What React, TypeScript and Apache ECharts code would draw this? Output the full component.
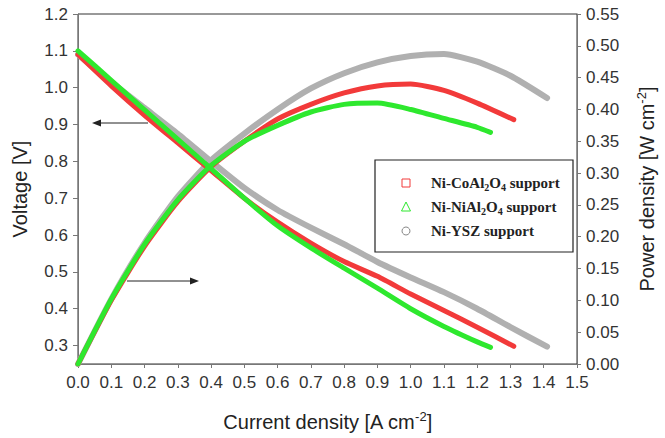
import React, { useEffect, useRef } from "react";
import * as echarts from "echarts";

// Voltage curves (left axis)
const coV_x = [0, 0.1, 0.2, 0.3, 0.4, 0.5, 0.6, 0.7, 0.8, 0.9, 1.0, 1.1, 1.2, 1.31];
const coV_y = [1.09, 1.005, 0.925, 0.85, 0.775, 0.70, 0.635, 0.578, 0.528, 0.488, 0.44, 0.395, 0.35, 0.298];
const niV_x = [0, 0.1, 0.2, 0.3, 0.4, 0.5, 0.6, 0.7, 0.8, 0.9, 1.0, 1.1, 1.2, 1.24];
const niV_y = [1.10, 1.02, 0.94, 0.86, 0.78, 0.70, 0.625, 0.565, 0.51, 0.456, 0.40, 0.352, 0.31, 0.295];
const yszV_x = [0, 0.1, 0.2, 0.3, 0.4, 0.5, 0.6, 0.7, 0.8, 0.9, 1.0, 1.1, 1.2, 1.3, 1.41];
const yszV_y = [1.09, 1.015, 0.945, 0.875, 0.80, 0.728, 0.668, 0.62, 0.575, 0.527, 0.485, 0.445, 0.40, 0.35, 0.297];

// Power curves (right axis)
const coP_x = [0, 0.1, 0.2, 0.3, 0.4, 0.5, 0.6, 0.7, 0.8, 0.9, 1.0, 1.1, 1.2, 1.31];
const coP_y = [0, 0.10, 0.185, 0.255, 0.31, 0.35, 0.385, 0.408, 0.426, 0.437, 0.44, 0.43, 0.41, 0.384];
const niP_x = [0, 0.1, 0.2, 0.3, 0.4, 0.5, 0.6, 0.7, 0.8, 0.9, 1.0, 1.1, 1.2, 1.24];
const niP_y = [0, 0.102, 0.188, 0.258, 0.312, 0.35, 0.375, 0.396, 0.408, 0.41, 0.40, 0.386, 0.372, 0.364];
const yszP_x = [0, 0.1, 0.2, 0.3, 0.4, 0.5, 0.6, 0.7, 0.8, 0.9, 1.0, 1.1, 1.2, 1.3, 1.41];
const yszP_y = [0, 0.102, 0.19, 0.263, 0.32, 0.362, 0.40, 0.433, 0.457, 0.474, 0.484, 0.487, 0.475, 0.453, 0.418];

const voltageTicks = [0.3, 0.4, 0.5, 0.6, 0.7, 0.8, 0.9, 1.0, 1.1, 1.2];

const legendNames = [
  "Ni-CoAl{sub|2}O{sub|4} support",
  "Ni-NiAl{sub|2}O{sub|4} support",
  "Ni-YSZ support",
];

const RED = "#f23a3a";
const GREEN = "#2ee82e";
const GRAY = "#b0b0b0";

const pairs = (xs: number[], ys: number[]) => xs.map((x, i) => [x, ys[i]]);

export default function App() {
  const ref = useRef<HTMLDivElement>(null);
  useEffect(() => {
    document.body.style.margin = "0";
    const chart = echarts.init(ref.current!, null, { renderer: "svg" });
    const SANS = "Liberation Sans, Arial, sans-serif";
    const tickFont = { fontFamily: SANS, fontSize: 17, color: "#333" };
    const nameFont = {
      fontFamily: SANS,
      fontSize: 20,
      color: "#222",
      rich: { sup: { fontSize: 13, verticalAlign: "bottom", padding: [0, 0, 11, 0], fontFamily: SANS, color: "#222" } },
    };
    const lineSeries = (name: string, data: number[][], color: string, width: number, yIdx: number, z: number) => ({
      name,
      type: "line",
      yAxisIndex: yIdx,
      data,
      symbol: "none",
      smooth: 0.2,
      z,
      lineStyle: { color, width, cap: "round", join: "round" },
    });
    const legendY = [183, 207, 231];
    const legendGraphics: any[] = [
      { type: "rect", shape: { x: 375, y: 160, width: 198, height: 92 }, style: { fill: "#fff", stroke: "#222", lineWidth: 1.2 }, z: 100 },
      { type: "rect", shape: { x: 402, y: legendY[0] - 4, width: 8, height: 8 }, style: { fill: "none", stroke: RED, lineWidth: 1 }, z: 101 },
      { type: "polygon", shape: { points: [[406, legendY[1] - 5], [401.5, legendY[1] + 4], [410.5, legendY[1] + 4]] }, style: { fill: "none", stroke: GREEN, lineWidth: 1 }, z: 101 },
      { type: "circle", shape: { cx: 406, cy: legendY[2], r: 4 }, style: { fill: "none", stroke: "#888", lineWidth: 1 }, z: 101 },
    ];
    legendNames.forEach((t, i) => {
      legendGraphics.push({
        type: "text",
        x: 431,
        y: legendY[i],
        z: 101,
        style: {
          text: t,
          fontFamily: "Liberation Serif, Times New Roman, serif",
          fontSize: 15,
          fontWeight: "bold",
          fill: "#222",
          verticalAlign: "middle",
          rich: { sub: { fontSize: 10, padding: [8, 0, 0, 0], fontFamily: "Liberation Serif, serif", fontWeight: "bold", fill: "#222" } },
        },
      });
    });
    const arrowColor = "#222";
    const arrows: any[] = [
      { type: "line", shape: { x1: 148, y1: 123, x2: 98, y2: 123 }, style: { stroke: arrowColor, lineWidth: 1 }, z: 50 },
      { type: "polygon", shape: { points: [[92, 123], [101, 119.5], [101, 126.5]] }, style: { fill: arrowColor }, z: 50 },
      { type: "line", shape: { x1: 127, y1: 281, x2: 192, y2: 281 }, style: { stroke: arrowColor, lineWidth: 1 }, z: 50 },
      { type: "polygon", shape: { points: [[199, 281], [190, 277.5], [190, 284.5]] }, style: { fill: arrowColor }, z: 50 },
    ];
    chart.setOption({
      animation: false,
      backgroundColor: "#fff",
      grid: { left: 78, right: 82, top: 14, bottom: 74, show: true, borderColor: "#333", borderWidth: 1 },
      xAxis: {
        type: "value",
        min: 0,
        max: 1.5,
        interval: 0.1,
        name: "Current density [A cm{sup|-2}]",
        nameLocation: "middle",
        nameGap: 46,
        nameTextStyle: nameFont,
        axisLine: { show: true, lineStyle: { color: "#777" } },
        axisTick: { show: true, length: 4, lineStyle: { color: "#777" } },
        axisLabel: { ...tickFont, margin: 10, formatter: (v: number) => v.toFixed(1) },
        splitLine: { show: false },
      },
      yAxis: [
        {
          type: "value",
          min: 0.25,
          max: 1.2,
          position: "left",
          name: "Voltage [V]",
          nameLocation: "middle",
          nameRotate: 90,
          nameGap: 48,
          nameTextStyle: nameFont,
          axisLine: { show: true, lineStyle: { color: "#777" } },
          axisTick: { show: true, length: 5, customValues: voltageTicks, lineStyle: { color: "#777" } },
          axisLabel: { ...tickFont, margin: 10, customValues: voltageTicks, formatter: (v: number) => v.toFixed(1) },
          splitLine: { show: false },
        },
        {
          type: "value",
          min: 0,
          max: 0.55,
          interval: 0.05,
          position: "right",
          name: "Power density [W cm{sup|-2}]",
          nameLocation: "middle",
          nameRotate: 90,
          nameGap: 58,
          nameTextStyle: nameFont,
          axisLine: { show: true, lineStyle: { color: "#777" } },
          axisTick: { show: true, length: 4, lineStyle: { color: "#777" } },
          axisLabel: { ...tickFont, margin: 9, formatter: (v: number) => v.toFixed(2) },
          splitLine: { show: false },
        },
      ],
      series: [
        lineSeries("Ni-YSZ V", pairs(yszV_x, yszV_y), GRAY, 6, 0, 2),
        lineSeries("Ni-YSZ P", pairs(yszP_x, yszP_y), GRAY, 6, 1, 2),
        lineSeries("Ni-CoAl2O4 V", pairs(coV_x, coV_y), RED, 5, 0, 3),
        lineSeries("Ni-CoAl2O4 P", pairs(coP_x, coP_y), RED, 5, 1, 3),
        lineSeries("Ni-NiAl2O4 V", pairs(niV_x, niV_y), GREEN, 5, 0, 4),
        lineSeries("Ni-NiAl2O4 P", pairs(niP_x, niP_y), GREEN, 5, 1, 4),
      ],
      graphic: [...arrows, ...legendGraphics],
    });
    return () => chart.dispose();
  }, []);
  return <div ref={ref} style={{ width: 665, height: 438 }} />;
}
